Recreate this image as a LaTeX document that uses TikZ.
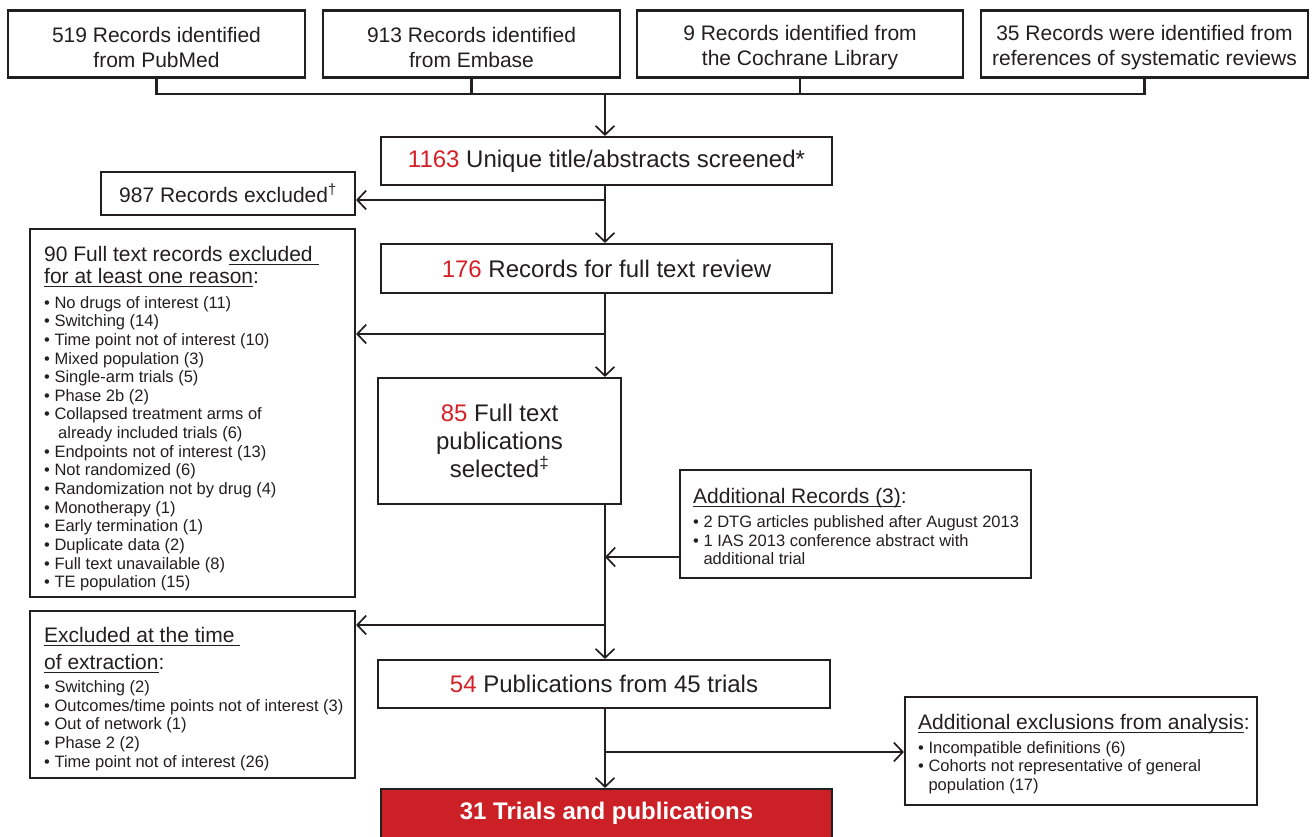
\documentclass[tikz,border=0pt]{standalone}
\usepackage{amsmath}
\usepackage{fontspec}
\setmainfont{Liberation Sans}
\usetikzlibrary{arrows.meta}
\definecolor{fred}{RGB}{213,32,39}
\definecolor{ffill}{RGB}{204,32,39}
\definecolor{lc}{RGB}{35,31,32}
\newcommand\bigf{\fontsize{24}{28}\selectfont}
\newcommand\medf{\fontsize{21}{25}\selectfont\spaceskip=0pt\xspaceskip=0pt }
\newcommand\hdf[1]{\fontsize{21}{#1}\selectfont\spaceskip=0pt\xspaceskip=0pt }
\newcommand\smf{\fontsize{16.5}{18.65}\selectfont\spaceskip=0pt\xspaceskip=0pt }
\newcommand\rd[1]{\textcolor{fred}{#1}}
\newcommand\ul[1]{\underline{\smash[b]{#1}}}
\newcommand\bsp{\hphantom{•\ }}
\newcommand\up{\rule{0pt}{22.5pt}}
\begin{document}
\begin{tikzpicture}[x=1pt,y=-1pt,
  box/.style={draw=lc,line width=2.1pt,inner sep=0pt,fill=white,text=lc},
  lbl/.style={inner sep=0pt,anchor=north west,align=left,text=lc,text width=400pt},
  conn/.style={draw=lc,line width=2.1pt},
  arr/.style={conn,-{Straight Barb[length=9pt,width=19pt,line width=1.7pt]}}]
\useasboundingbox (0,0) rectangle (1312,837);

% top sources
\node[box,minimum width=297pt,minimum height=67pt,align=center,font=\medf] (b1) at (156.5,44) {\up519 Records identified\\from PubMed};
\node[box,minimum width=297pt,minimum height=67pt,align=center,font=\medf] (b2) at (471.5,44) {\up913 Records identified\\from Embase};
\node[box,minimum width=326pt,minimum height=67pt,align=center,font=\medf] (b3) at (800,44) {\up9 Records identified from\\the Cochrane Library};
\node[box,minimum width=327pt,minimum height=67pt,align=center,font=\medf] (b4) at (1144.5,44) {\up35 Records were identified from\\references of systematic reviews};

% main column
\node[box,minimum width=451pt,minimum height=48pt,font=\bigf] (s1) at (606.5,161) {\rd{1163} Unique title/abstracts screened*};
\node[box,minimum width=254pt,minimum height=43pt,font=\medf] (x987) at (228,193.5) {987 Records excluded\textsuperscript{†}};
\node[box,minimum width=451pt,minimum height=49pt,font=\bigf] (r176) at (606.5,268.5) {\rd{176} Records for full text review};
\node[box,minimum width=325pt,minimum height=368pt] (x90) at (192.5,413) {};
\node[lbl] (t90) at (44,246) {{\hdf{22}90 Full text records \ul{excluded\ }\\\ul{for at least one reason}:\par}\vspace{6pt}%
{\smf • No drugs of interest (11)\\
• Switching (14)\\
• Time point not of interest (10)\\
• Mixed population (3)\\
• Single-arm trials (5)\\
• Phase 2b (2)\\
• Collapsed treatment arms of\\
\hspace*{14pt}already included trials (6)\\
• Endpoints not of interest (13)\\
• Not randomized (6)\\
• Randomization not by drug (4)\\
• Monotherapy (1)\\
• Early termination (1)\\
• Duplicate data (2)\\
• Full text unavailable (8)\\
• TE population (15)\par}};
\node[box,minimum width=243pt,minimum height=126pt,align=center,font=\bigf] (f85) at (499.5,441) {\rd{85} Full text\\publications\\selected\textsuperscript{‡}};
\node[box,minimum width=351pt,minimum height=108pt] (ar) at (855.5,524) {};
\node[lbl] (tar) at (693,488) {{\hdf{25}\ul{Additional Records (3)}:\par}\vspace{5.5pt}%
{\smf • 2 DTG articles published after August 2013\\
• 1 IAS 2013 conference abstract with\\
\bsp additional trial\par}};
\node[box,minimum width=325pt,minimum height=167pt] (ex) at (192.5,694.5) {};
\node[lbl] (tex) at (44,627) {{\hdf{27}\ul{Excluded at the time\ }\\\ul{of extraction}:\par}\vspace{4.5pt}%
{\smf • Switching (2)\\
• Outcomes/time points not of interest (3)\\
• Out of network (1)\\
• Phase 2 (2)\\
• Time point not of interest (26)\par}};
\node[box,minimum width=452pt,minimum height=48pt,font=\bigf] (p54) at (604,684) {\rd{54} Publications from 45 trials};
\node[box,minimum width=352pt,minimum height=108pt] (ae) at (1081,751) {};
\node[lbl] (tae) at (918,714) {{\hdf{25}\ul{Additional exclusions from analysis}:\par}\vspace{5pt}%
{\smf • Incompatible definitions (6)\\
• Cohorts not representative of general\\
\bsp population (17)\par}};
\node[box,fill=ffill,text=white,minimum width=451pt,minimum height=49pt,font=\bigf\bfseries] (t31) at (606.5,813.5) {31 Trials and publications};

% connectors
\coordinate (j) at (605,94);
\draw[conn] (b1.south) -- (b1.south |- j) -- (b4.south |- j) -- (b4.south);
\draw[conn] (b2.south) -- (b2.south |- j);
\draw[conn] (b3.south) -- (b3.south |- j);
\draw[arr] (j) -- (j |- s1.north);
\draw[arr] (j |- s1.south) -- (j |- r176.north);
\coordinate (m987) at (605,200);
\draw[arr] (m987) -- (m987 -| x987.east);
\draw[arr] (j |- r176.south) -- (j |- f85.north);
\coordinate (m90) at (605,334);
\draw[arr] (m90) -- (m90 -| x90.east);
\draw[arr] (j |- f85.south) -- (j |- p54.north);
\coordinate (mar) at (605,557);
\draw[arr] (mar -| ar.west) -- (mar);
\coordinate (mex) at (605,625);
\draw[arr] (mex) -- (mex -| ex.east);
\draw[arr] (j |- p54.south) -- (j |- t31.north);
\coordinate (mae) at (605,752);
\draw[arr] (mae) -- (mae -| ae.west);
\end{tikzpicture}
\end{document}
